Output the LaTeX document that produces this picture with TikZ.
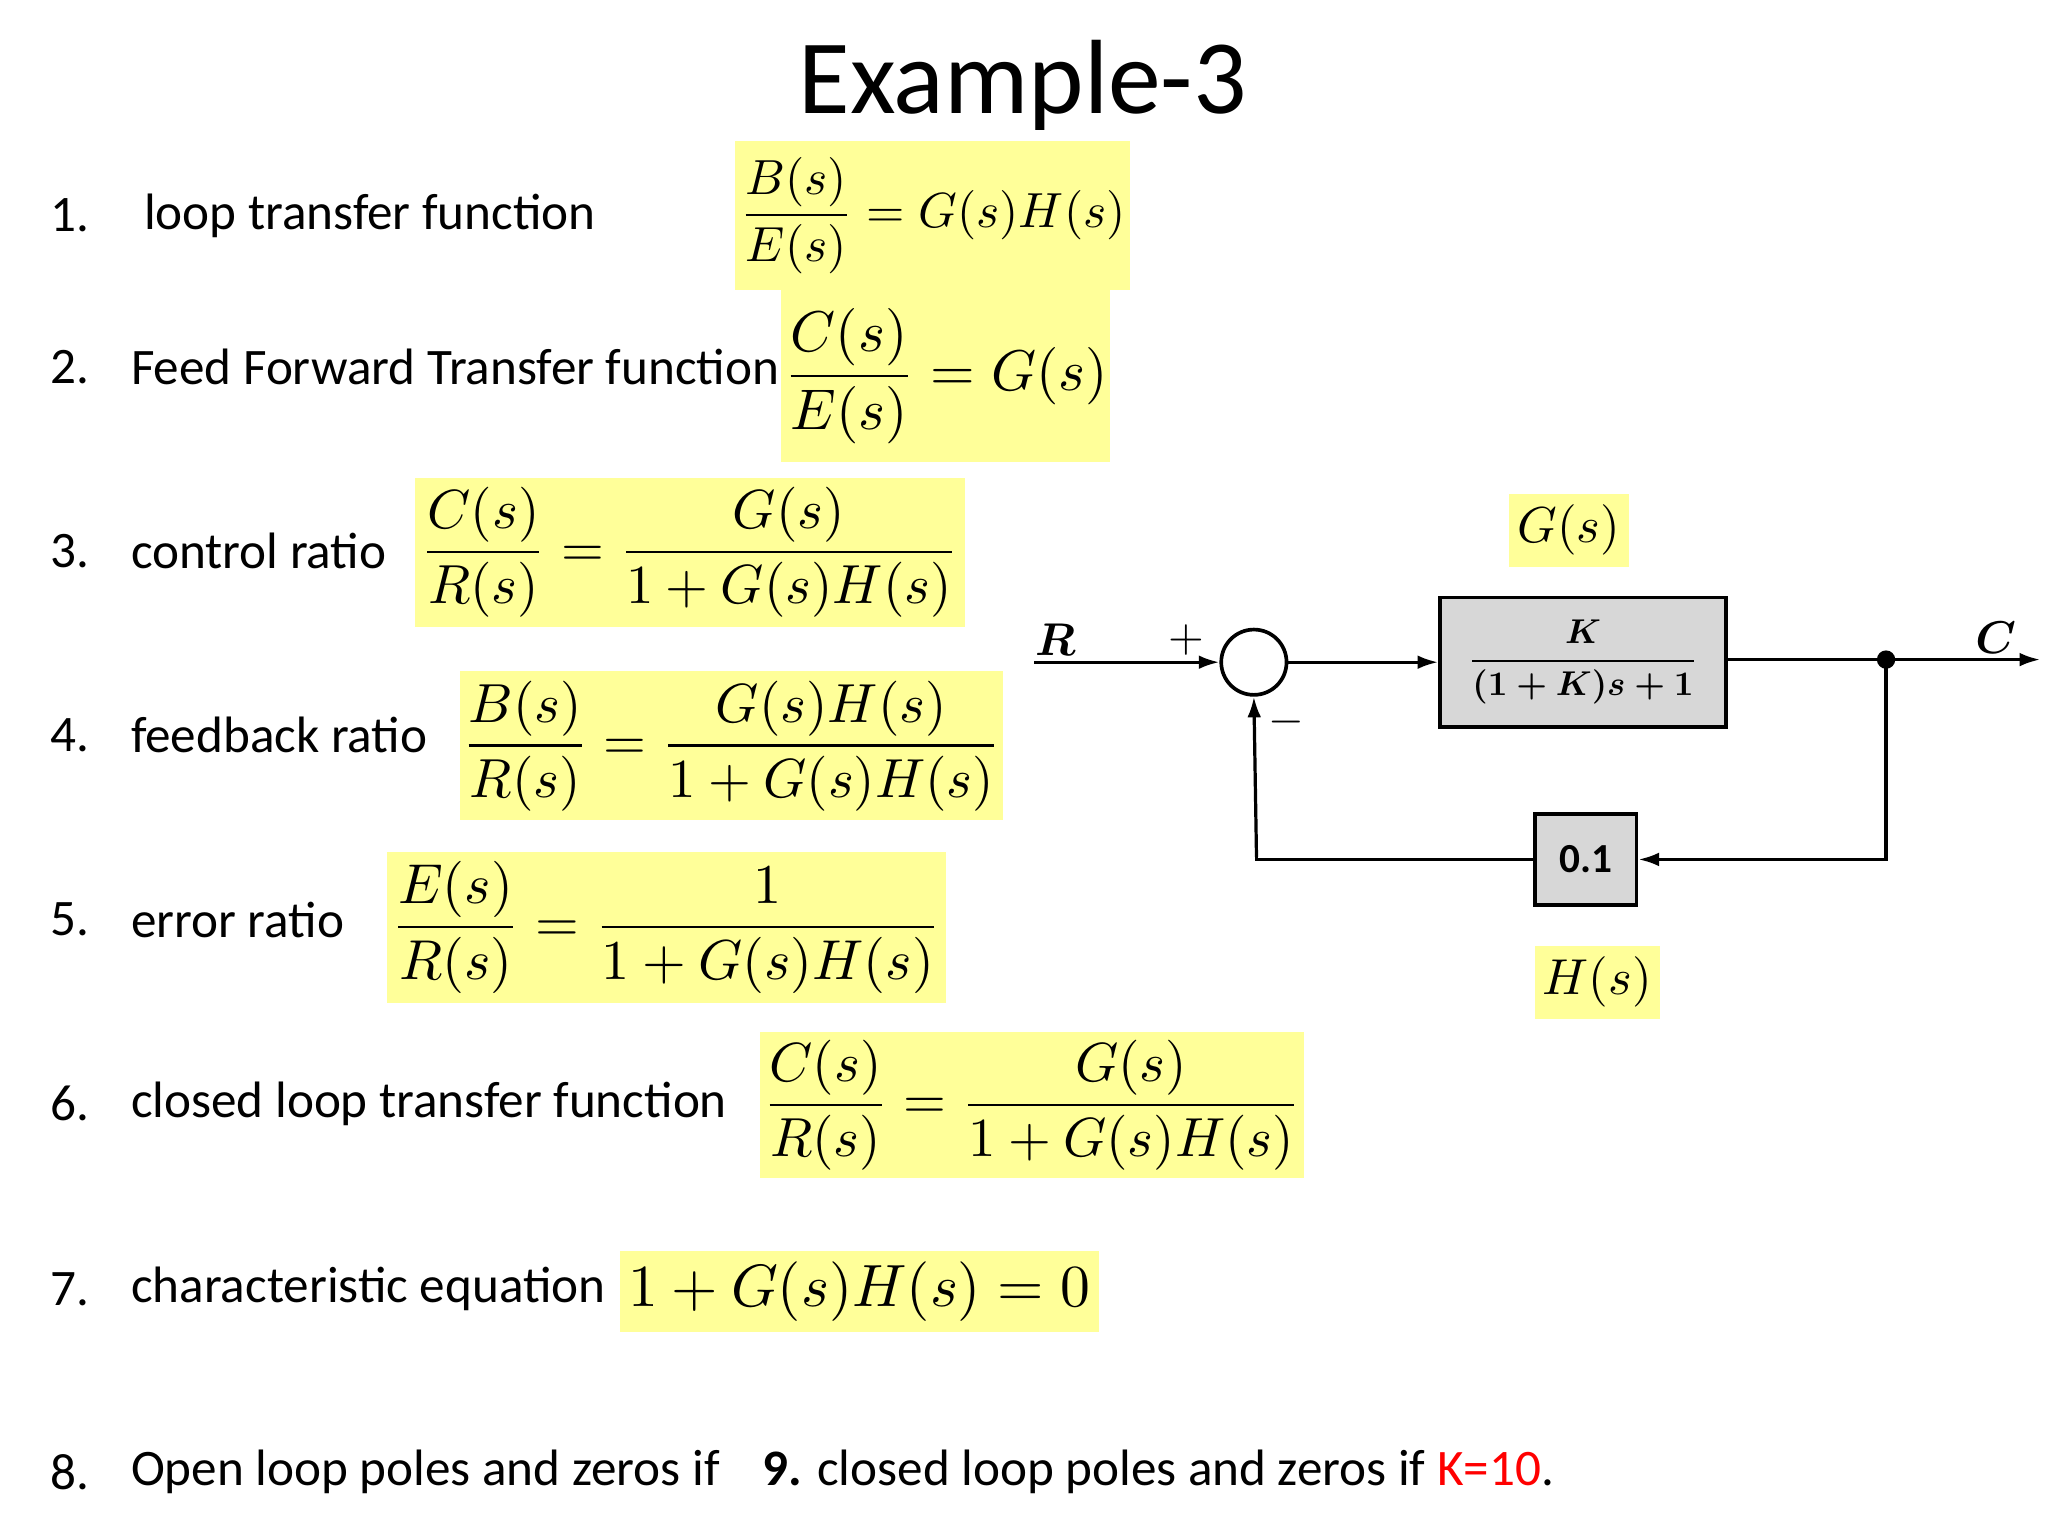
\documentclass[tikz,border=0pt]{standalone}
\usepackage{amsmath}
\usepackage{graphicx}
\usepackage{fontspec}
\setmainfont{Carlito}
\usetikzlibrary{arrows.meta}
\definecolor{hl}{RGB}{255,255,153}
\definecolor{blk}{RGB}{215,215,215}
\newcommand\myeq[2]{\scalebox{#1}{$\displaystyle #2$}}
\tikzset{
 ybox/.style={fill=hl,inner sep=0pt,anchor=center},
 item/.style={anchor=west,inner sep=0pt,font=\fontsize{22.3}{26}\selectfont},
 blkbox/.style={draw,line width=1.6pt,fill=blk,inner sep=0pt},
 sig/.style={line width=1.4pt},
 arr/.style={sig,-{Latex[length=9pt,width=6pt]}},
 lbl/.style={inner sep=0pt,font=\bfseries}
}
\begin{document}
\begin{tikzpicture}[x=0.02cm,y=-0.02cm]
\useasboundingbox (0,0) rectangle (1568,1176);
\node[inner sep=0pt,font=\fontsize{46}{52}\selectfont] (title) at (783,65) {Example-3};
% items
\node[item] (n1) at (38,165) {1.}; \node[item] (t1) at (110,165) {loop transfer function};
\node[item] (n2) at (38,281) {2.}; \node[item] (t2) at (100,281) {Feed Forward Transfer function};
\node[item] (n3) at (38,422) {3.}; \node[item] (t3) at (100,422) {control ratio};
\node[item] (n4) at (38,563) {4.}; \node[item] (t4) at (100,563) {feedback ratio};
\node[item] (n5) at (38,704) {5.}; \node[item] (t5) at (100,704) {error ratio};
\node[item] (n6) at (38,845) {6.}; \node[item] (t6) at (100,845) {closed loop transfer function};
\node[item] (n7) at (38,987) {7.}; \node[item] (t7) at (100,987) {characteristic equation};
\node[item] (n8) at (38,1127) {8.};
\node[item] (t8) at (100,1127) {Open loop poles and zeros if\hspace{0.6em} \textbf{9.} closed loop poles and zeros if \textcolor{red}{K=10}.};
% boxes
\node[ybox,minimum width=302*0.02cm,minimum height=114*0.02cm] (e1) at (714,165) {};
\node at (e1) {\myeq{2.15}{\frac{B(s)}{E(s)}=G(s)H(s)}};
\node[ybox,minimum width=252*0.02cm,minimum height=132*0.02cm] (e2) at (724,288) {};
\node at (e2) {\myeq{2.5}{\frac{C(s)}{E(s)}=G(s)}};
\node[ybox,minimum width=421*0.02cm,minimum height=114*0.02cm] (e3) at (528,423) {};
\node at (e3) {\myeq{2.4}{\frac{C(s)}{R(s)}=\frac{G(s)}{1+G(s)H(s)}}};
\node[ybox,minimum width=416*0.02cm,minimum height=114*0.02cm] (e4) at (560,571) {};
\node at (e4) {\myeq{2.4}{\frac{B(s)}{R(s)}=\frac{G(s)H(s)}{1+G(s)H(s)}}};
\node[ybox,minimum width=428*0.02cm,minimum height=116*0.02cm] (e5) at (510,710) {};
\node at (e5) {\myeq{2.45}{\frac{E(s)}{R(s)}=\frac{1}{1+G(s)H(s)}}};
\node[ybox,minimum width=417*0.02cm,minimum height=112*0.02cm] (e6) at (790,846) {};
\node at (e6) {\myeq{2.4}{\frac{C(s)}{R(s)}=\frac{G(s)}{1+G(s)H(s)}}};
\node[ybox,minimum width=367*0.02cm,minimum height=62*0.02cm] (e7) at (658,989) {};
\node at (e7) {\myeq{2.6}{1+G(s)H(s)=0}};
% block diagram
\node[ybox,minimum width=92*0.02cm,minimum height=56*0.02cm] (gl) at (1201,406) {};
\node at (gl) {\myeq{2.2}{G(s)}};
\node[ybox,minimum width=96*0.02cm,minimum height=56*0.02cm] (hl) at (1223,752) {};
\node at (hl) {\myeq{2.2}{H(s)}};
\node[draw,circle,line width=1.6pt,minimum size=50*0.02cm,inner sep=0pt] (sum) at (960,507) {};
\node[blkbox,minimum width=219*0.02cm,minimum height=99*0.02cm] (G) at (1212,507) {};
\node at (G) {\myeq{1.5}{\boldsymbol{\frac{K}{(1+K)s+1}}}};
\node[blkbox,minimum width=78*0.02cm,minimum height=70*0.02cm] (H) at (1214,658) {};
\node[lbl] at (H) {\scalebox{1.8}{\textbf{0.1}}};
\coordinate (rin) at (792,507);
\coordinate (cout) at (1562,505);
\coordinate (br) at (1444,505);
\coordinate (bl) at (962,656);
\draw[arr] (rin) -- (sum.west);
\draw[arr] (sum.east) -- (G.west);
\draw[sig] (G.east |- br) -- (br);
\draw[arr] (br) -- (cout);
\fill (br) circle (4pt);
\draw[arr] (br) |- (H.east);
\draw[sig] (H.west) -| (bl);
\draw[arr] (bl) -- (sum.south);
\node[inner sep=0pt] (R) at (808,490) {\myeq{2}{\boldsymbol{R}}};
\node[inner sep=0pt] (C) at (1528,488) {\myeq{2}{\boldsymbol{C}}};
\node[inner sep=0pt] (pl) at (908,490) {\myeq{2}{+}};
\node[inner sep=0pt] (mi) at (985,553) {\myeq{2}{-}};
\end{tikzpicture}
\end{document}
